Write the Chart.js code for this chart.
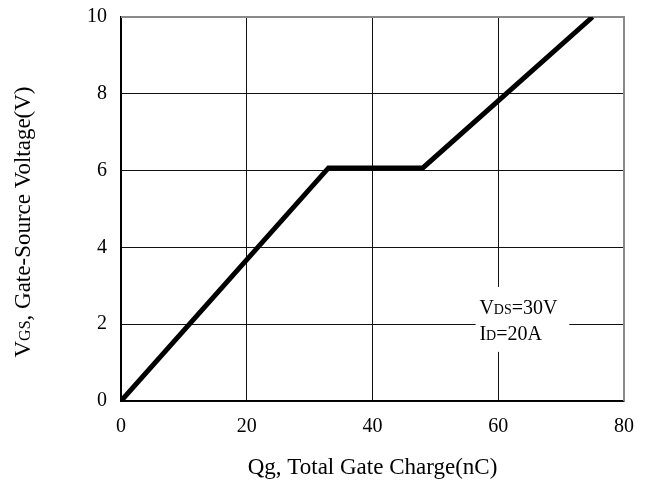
<!DOCTYPE html>
<html>
<head>
<meta charset="utf-8">
<script src="https://cdn.jsdelivr.net/npm/chart.js@4.4.1/dist/chart.umd.min.js"></script>
<style>
html,body{margin:0;padding:0;background:#fff;}
#wrap{width:646px;height:485px;}
</style>
</head>
<body>
<div id="wrap"><canvas id="c" width="646" height="485"></canvas></div>
<script>
// Data
const qgCharge = [0, 33, 48, 75];           // nC
const vgsVoltage = [0, 6.07, 6.07, 10];     // V
const xTicks = [0, 20, 40, 60, 80];
const yTicks = [0, 2, 4, 6, 8, 10];
const xTitle = 'Qg, Total Gate Charge(nC)';
const yTitleMain = 'V';
const yTitleSub = 'GS';
const yTitleRest = ', Gate-Source Voltage(V)';
const noteLines = [['V', 'DS', '=30V'], ['I', 'D', '=20A']];

const FONT = '"Liberation Serif", "DejaVu Serif", serif';

const points = qgCharge.map((q, i) => ({x: q, y: vgsVoltage[i]}));

const decor = {
  id: 'decor',
  beforeDatasetsDraw(chart) {
    const ctx = chart.ctx;
    const x = chart.scales.x, y = chart.scales.y;
    const ca = chart.chartArea;
    ctx.save();
    // top & right gray frame
    ctx.strokeStyle = '#8a8a8a';
    ctx.lineWidth = 2;
    ctx.beginPath();
    ctx.moveTo(ca.left, ca.top);
    ctx.lineTo(ca.right, ca.top);
    ctx.lineTo(ca.right, ca.bottom);
    ctx.stroke();
    // annotation box
    const bx0 = x.getPixelForValue(56.4), bx1 = x.getPixelForValue(71.3);
    const by0 = y.getPixelForValue(2.97), by1 = y.getPixelForValue(1.28);
    ctx.fillStyle = '#fff';
    ctx.fillRect(bx0, by0, bx1 - bx0, by1 - by0);
    // note text
    ctx.fillStyle = '#000';
    ctx.textBaseline = 'alphabetic';
    const baselines = [y.getPixelForValue(2.26), y.getPixelForValue(1.6)];
    noteLines.forEach((parts, i) => {
      let cx = x.getPixelForValue(57.0);
      const fonts = ['20px ' + FONT, '14px ' + FONT, '20px ' + FONT];
      parts.forEach((t, j) => {
        ctx.font = fonts[j];
        ctx.fillText(t, cx, baselines[i]);
        cx += ctx.measureText(t).width;
      });
    });
    ctx.restore();
  },
  afterDraw(chart) {
    const ctx = chart.ctx;
    const ca = chart.chartArea;
    ctx.save();
    ctx.fillStyle = '#000';
    const parts = [[yTitleMain, '23px'], [yTitleSub, '16px'], [yTitleRest, '23px']];
    let total = 0;
    parts.forEach(p => { ctx.font = p[1] + ' ' + FONT; total += ctx.measureText(p[0]).width; });
    ctx.translate(22, (ca.top + ca.bottom) / 2 + 13);
    ctx.rotate(-Math.PI / 2);
    let cx = -total / 2;
    ctx.textBaseline = 'alphabetic';
    parts.forEach(p => {
      ctx.font = p[1] + ' ' + FONT;
      ctx.fillText(p[0], cx, 8);
      cx += ctx.measureText(p[0]).width;
    });
    ctx.restore();
  }
};

new Chart(document.getElementById('c'), {
  type: 'line',
  data: {
    datasets: [{
      data: points,
      borderColor: '#000',
      borderWidth: 5,
      pointRadius: 0,
      fill: false,
      tension: 0,
      borderJoinStyle: 'miter'
    }]
  },
  options: {
    responsive: false,
    animation: false,
    events: [],
    layout: {padding: {left: 0, right: 22, top: 17, bottom: 0}},
    plugins: {legend: {display: false}, tooltip: {enabled: false}},
    scales: {
      x: {
        type: 'linear', min: 0, max: 80,
        afterBuildTicks: s => { s.ticks = xTicks.map(v => ({value: v})); },
        afterFit: s => { s.height = 84; s.paddingLeft = 0; s.paddingRight = 0; },
        grid: {color: '#111', lineWidth: 1, drawTicks: false},
        border: {color: '#000', width: 1.5},
        ticks: {color: '#000', padding: 14, maxRotation: 0, font: {family: FONT, size: 20}},
        title: {display: true, text: xTitle, color: '#000', font: {family: FONT, size: 23}, padding: {top: 3, bottom: 3}}
      },
      y: {
        type: 'linear', min: 0, max: 10,
        afterBuildTicks: s => { s.ticks = yTicks.map(v => ({value: v})); },
        afterFit: s => { s.width = 121; s.paddingTop = 0; s.paddingBottom = 0; },
        grid: {color: '#111', lineWidth: 1, drawTicks: false},
        border: {color: '#000', width: 2},
        ticks: {color: '#000', padding: 14, font: {family: FONT, size: 20}},
        title: {display: false}
      }
    }
  },
  plugins: [decor]
});
</script>
</body>
</html>
